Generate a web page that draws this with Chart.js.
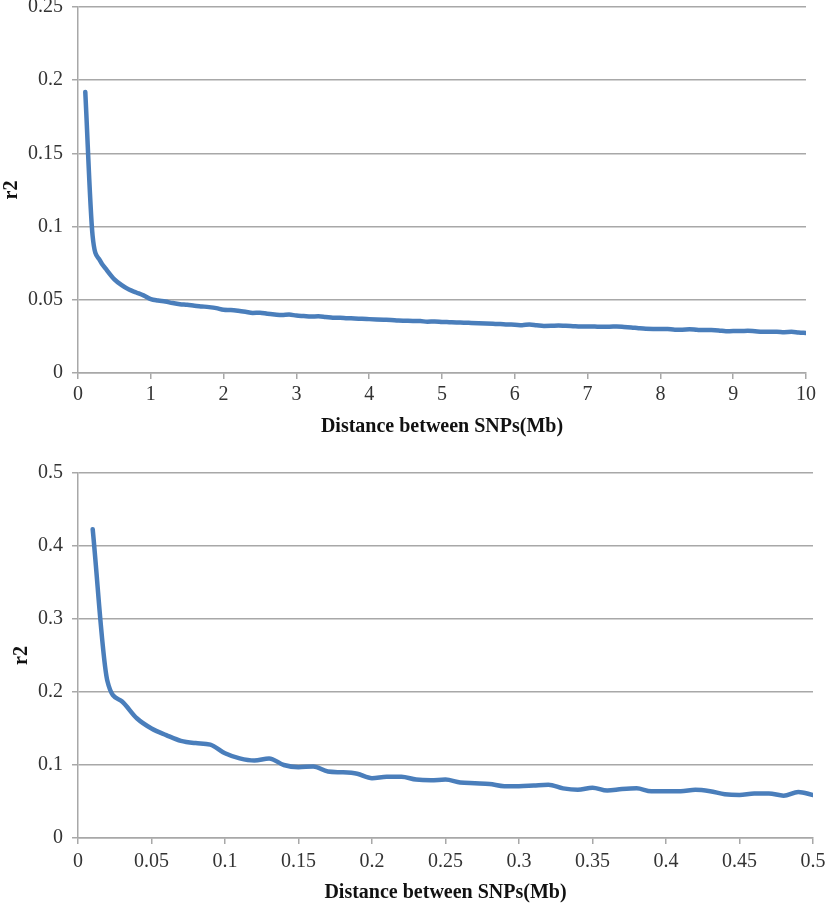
<!DOCTYPE html>
<html>
<head>
<meta charset="utf-8">
<script src="https://cdn.jsdelivr.net/npm/chart.js@4"></script>
<style>
  html, body { margin: 0; padding: 0; background: #fff; }
  #wrap { position: relative; width: 827px; height: 904px; }
  canvas { position: absolute; left: 0; }
  #topChart { top: 0; }
  #bottomChart { top: 445px; }
</style>
</head>
<body>
<div id="wrap">
  <canvas id="topChart" width="827" height="445"></canvas>
  <canvas id="bottomChart" width="827" height="459"></canvas>
</div>
<script>
// distance (Mb) and r2
const topDist = [
  0.1, 0.2, 0.3, 0.4, 0.5, 0.6, 0.7, 0.8, 0.9, 1.0,
  1.1, 1.2, 1.3, 1.4, 1.5, 1.6, 1.7, 1.8, 1.9, 2.0,
  2.1, 2.2, 2.3, 2.4, 2.5, 2.6, 2.7, 2.8, 2.9, 3.0,
  3.1, 3.2, 3.3, 3.4, 3.5, 3.6, 3.7, 3.8, 3.9, 4.0,
  4.1, 4.2, 4.3, 4.4, 4.5, 4.6, 4.7, 4.8, 4.9, 5.0,
  5.1, 5.2, 5.3, 5.4, 5.5, 5.6, 5.7, 5.8, 5.9, 6.0,
  6.1, 6.2, 6.3, 6.4, 6.5, 6.6, 6.7, 6.8, 6.9, 7.0,
  7.1, 7.2, 7.3, 7.4, 7.5, 7.6, 7.7, 7.8, 7.9, 8.0,
  8.1, 8.2, 8.3, 8.4, 8.5, 8.6, 8.7, 8.8, 8.9, 9.0,
  9.1, 9.2, 9.3, 9.4, 9.5, 9.6, 9.7, 9.8, 9.9, 10.0
];
const topR2 = [
  0.192, 0.094, 0.077, 0.070, 0.064, 0.060, 0.057, 0.055, 0.053, 0.0505,
  0.0495, 0.0488, 0.0478, 0.0470, 0.0466, 0.0460, 0.0455, 0.0450, 0.0443, 0.0432,
  0.0430, 0.0425, 0.0418, 0.0410, 0.0412, 0.0405, 0.0400, 0.0396, 0.0399, 0.0392,
  0.0389, 0.0386, 0.0387, 0.0383, 0.0378, 0.0377, 0.0374, 0.0373, 0.0370, 0.0368,
  0.0366, 0.0364, 0.0362, 0.0358, 0.0357, 0.0356, 0.0355, 0.0350, 0.0352, 0.0349,
  0.0347, 0.0345, 0.0344, 0.0342, 0.0340, 0.0338, 0.0336, 0.0334, 0.0331, 0.0330,
  0.0327, 0.0331, 0.0326, 0.0321, 0.0322, 0.0325, 0.0322, 0.0320, 0.0318, 0.0318,
  0.0317, 0.0316, 0.0316, 0.0318, 0.0315, 0.0311, 0.0306, 0.0302, 0.0301, 0.0301,
  0.0300, 0.0296, 0.0296, 0.0298, 0.0295, 0.0293, 0.0293, 0.0291, 0.0285, 0.0287,
  0.0287, 0.0288, 0.0285, 0.0282, 0.0282, 0.0282, 0.0279, 0.0281, 0.0277, 0.0274
];
const bottomDist = [
  0.01, 0.02, 0.03, 0.04, 0.05, 0.06, 0.07, 0.08, 0.09, 0.10,
  0.11, 0.12, 0.13, 0.14, 0.15, 0.16, 0.17, 0.18, 0.19, 0.20,
  0.21, 0.22, 0.23, 0.24, 0.25, 0.26, 0.27, 0.28, 0.29, 0.30,
  0.31, 0.32, 0.33, 0.34, 0.35, 0.36, 0.37, 0.38, 0.39, 0.40,
  0.41, 0.42, 0.43, 0.44, 0.45, 0.46, 0.47, 0.48, 0.49, 0.50
];
const bottomR2 = [
  0.423, 0.215, 0.187, 0.164, 0.150, 0.141, 0.133, 0.130, 0.128, 0.116,
  0.109, 0.106, 0.109, 0.100, 0.097, 0.098, 0.091, 0.090, 0.088, 0.082,
  0.084, 0.084, 0.080, 0.079, 0.080, 0.076, 0.075, 0.074, 0.071, 0.071,
  0.072, 0.073, 0.068, 0.066, 0.069, 0.065, 0.067, 0.068, 0.064, 0.064,
  0.064, 0.066, 0.064, 0.060, 0.059, 0.061, 0.061, 0.058, 0.063, 0.059
];

// tick values
const topXTicks = [0, 1, 2, 3, 4, 5, 6, 7, 8, 9, 10];
const topYTicks = [0, 0.05, 0.1, 0.15, 0.2, 0.25];
const bottomXTicks = [0, 0.05, 0.1, 0.15, 0.2, 0.25, 0.3, 0.35, 0.4, 0.45, 0.5];
const bottomYTicks = [0, 0.1, 0.2, 0.3, 0.4, 0.5];

const xTitle = "Distance between SNPs(Mb)";
const yTitle = "r2";

const lineBlue = "#4a7ebb";
const gridColor = "#a8a8a8";
const tickFont = { family: "'Liberation Serif', 'Times New Roman', serif", size: 20 };
const titleFont = { family: "'Liberation Serif', 'Times New Roman', serif", size: 20, weight: "bold", lineHeight: 1 };
const fmt = (v) => String(Number(Number(v).toFixed(3)));

const makeChart = (id, xs, ys, xTicks, yTicks, box) => {
  const points = xs.map((x, i) => ({ x, y: ys[i] }));
  return new Chart(document.getElementById(id), {
    type: "line",
    data: {
      datasets: [{
        data: points,
        borderColor: lineBlue,
        borderWidth: 4.5,
        borderCapStyle: "round",
        borderJoinStyle: "round",
        pointRadius: 0,
        cubicInterpolationMode: "monotone",
        fill: false,
      }],
    },
    options: {
      responsive: false,
      animation: false,
      devicePixelRatio: 1,
      layout: { padding: { top: box.top, right: box.right, left: 0, bottom: 0 } },
      plugins: { legend: { display: false }, tooltip: { enabled: false } },
      scales: {
        x: {
          type: "linear",
          min: xTicks[0],
          max: xTicks[xTicks.length - 1],
          afterBuildTicks: (s) => { s.ticks = xTicks.map((value) => ({ value })); },
          afterFit: (s) => { s.height = box.xHeight; s.paddingLeft = 0; s.paddingRight = 0; },
          grid: { drawOnChartArea: false, drawTicks: true, tickLength: 6, color: gridColor, lineWidth: 1.5 },
          border: { color: gridColor, width: 1.5 },
          ticks: { padding: box.xPad, font: tickFont, color: "#333", callback: fmt, maxRotation: 0, autoSkip: false },
          title: { display: true, text: xTitle, font: titleFont, color: "#111", padding: { top: 0, bottom: box.xTitlePad } },
        },
        y: {
          type: "linear",
          min: yTicks[0],
          max: yTicks[yTicks.length - 1],
          afterBuildTicks: (s) => { s.ticks = yTicks.map((value) => ({ value })); },
          afterFit: (s) => { s.width = 78; s.paddingTop = 0; s.paddingBottom = 0; },
          grid: { drawTicks: true, tickLength: 6, color: gridColor, lineWidth: 1.5 },
          border: { color: gridColor, width: 1.5 },
          ticks: { padding: 9, font: tickFont, color: "#333", callback: fmt, autoSkip: false },
          title: { display: true, text: yTitle, font: titleFont, color: "#111", padding: { top: box.yTitlePad, bottom: 0 } },
        },
      },
    },
  });
};

makeChart("topChart", topDist, topR2, topXTicks, topYTicks,
  { top: 7, right: 21, xHeight: 72, xPad: 4, xTitlePad: 8, yTitlePad: 2 });
makeChart("bottomChart", bottomDist, bottomR2, bottomXTicks, bottomYTicks,
  { top: 28, right: 14, xHeight: 66, xPad: 6, xTitlePad: 1, yTitlePad: 12 });
</script>
</body>
</html>
